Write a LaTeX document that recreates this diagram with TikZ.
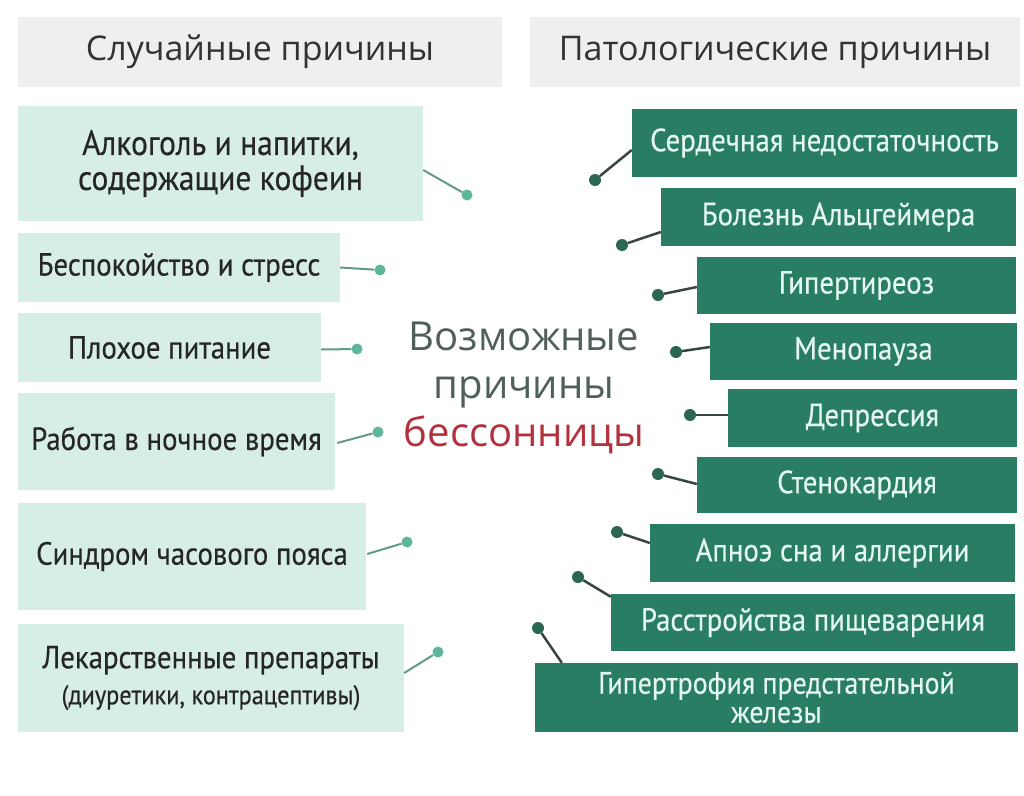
\documentclass[tikz,border=0pt]{standalone}
\usepackage{fontspec}
\setmainfont{PT Sans}
\newfontfamily\condfont[FakeStretch=0.9,FakeBold=0.4]{PT Sans}
\newfontfamily\headfont{Open Sans}
\usetikzlibrary{calc}

\definecolor{headgray}{HTML}{EFEFEF}
\definecolor{mint}{HTML}{D6EEE5}
\definecolor{pine}{HTML}{2A7D65}
\definecolor{pinetext}{HTML}{E3F6EF}
\definecolor{mintdot}{HTML}{5DB59C}
\definecolor{mintline}{HTML}{5F9A8A}
\definecolor{pinedot}{HTML}{2B6653}
\definecolor{pineline}{HTML}{37463F}
\definecolor{titlegray}{HTML}{4F5F5B}
\definecolor{titlered}{HTML}{B3303C}

\tikzset{
  header/.style={fill=headgray,minimum height=70pt,font=\headfont\fontsize{34}{38}\selectfont,text=black!80},
  casual/.style={fill=mint,align=center,font=\condfont\fontsize{32}{36}\selectfont,text=black!85},
  disease/.style={fill=pine,align=center,font=\condfont\fontsize{32}{32}\selectfont,text=pinetext},
  casualdot/.style={circle,fill=mintdot,inner sep=0pt,minimum size=11pt},
  diseasedot/.style={circle,fill=pinedot,inner sep=0pt,minimum size=12pt},
  casualline/.style={draw=mintline,line width=2pt},
  diseaseline/.style={draw=pineline,line width=2.5pt}
}

\begin{document}
\begin{tikzpicture}[x=1pt,y=-1pt]
      \useasboundingbox (0,0) rectangle (1024,795);
      % \draw[help lines](0,0) grid (1024,795);

      % headers
      \draw (260,52) node[header,minimum width=484pt] (hcasual) {Случайные причины};
      \draw (775,52) node[header,minimum width=490pt] (hpath) {Патологические причины};

      % centre title
      \draw (524,388) node[align=center,font=\headfont\fontsize{40}{48}\selectfont,text=titlegray] (title)
        {Возможные\\причины\\\textcolor{titlered}{бессонницы}};

      % left column
      \draw (220.5,163.5) node[casual,minimum width=405pt,minimum height=115pt,font=\condfont\fontsize{35}{35}\selectfont] (alcohol) {Алкоголь и напитки,\\содержащие кофеин};
      \draw (179,267.5) node[casual,minimum width=322pt,minimum height=69pt] (stress) {Беспокойство и стресс};
      \draw (169.5,347.5) node[casual,minimum width=303pt,minimum height=69pt] (food) {Плохое питание};
      \draw (176.5,441.5) node[casual,minimum width=317pt,minimum height=97pt] (night) {Работа в ночное время};
      \draw (192,556.5) node[casual,minimum width=348pt,minimum height=107pt] (jetlag) {Синдром часового пояса};
      \draw (211,678) node[casual,minimum width=386pt,minimum height=108pt] (drugs) {Лекарственные препараты\\{\fontsize{27}{30}\selectfont(диуретики, контрацептивы)}};

      \draw (467,195) node[casualdot] (dalcohol) {};
      \draw (380,270) node[casualdot] (dstress) {};
      \draw (357,349) node[casualdot] (dfood) {};
      \draw (378,432) node[casualdot] (dnight) {};
      \draw (407,542) node[casualdot] (djetlag) {};
      \draw (438,652) node[casualdot] (ddrugs) {};

      \draw[casualline] ($(alcohol.east)+(0,6.5)$) -- (dalcohol);
      \draw[casualline] (stress.east) -- (dstress);
      \draw[casualline] ($(food.east)+(0,2)$) -- (dfood);
      \draw[casualline] ($(night.east)+(2,1.5)$) -- (dnight);
      \draw[casualline] ($(jetlag.east)+(1,-2.5)$) -- (djetlag);
      \draw[casualline] ($(drugs.east)+(0,-5)$) -- (ddrugs);

      % right column
      \draw (824.5,143) node[disease,minimum width=385pt,minimum height=68pt] (heart) {Сердечная недостаточность};
      \draw (838.5,217) node[disease,minimum width=355pt,minimum height=58pt] (alzheimer) {Болезнь Альцгеймера};
      \draw (856.5,285.5) node[disease,minimum width=319pt,minimum height=57pt] (thyroid) {Гипертиреоз};
      \draw (863.5,351.5) node[disease,minimum width=307pt,minimum height=57pt] (menopause) {Менопауза};
      \draw (872.5,418) node[disease,minimum width=289pt,minimum height=58pt] (depression) {Депрессия};
      \draw (857,485) node[disease,minimum width=320pt,minimum height=56pt] (angina) {Стенокардия};
      \draw (832.5,553) node[disease,minimum width=365pt,minimum height=58pt] (apnea) {Апноэ сна и аллергии};
      \draw (813,622.5) node[disease,minimum width=404pt,minimum height=57pt] (digest) {Расстройства пищеварения};
      \draw (776.5,697.5) node[disease,minimum width=483pt,minimum height=69pt,inner ysep=1pt,font=\condfont\fontsize{31}{29}\selectfont] (prostate) {Гипертрофия предстательной\\железы};

      \draw (595,180) node[diseasedot] (dheart) {};
      \draw (622,245) node[diseasedot] (dalzheimer) {};
      \draw (658,295) node[diseasedot] (dthyroid) {};
      \draw (676,352) node[diseasedot] (dmenopause) {};
      \draw (690,415) node[diseasedot] (ddepression) {};
      \draw (658,474) node[diseasedot] (dangina) {};
      \draw (617,532) node[diseasedot] (dapnea) {};
      \draw (578,577) node[diseasedot] (ddigest) {};
      \draw (538,628) node[diseasedot] (dprostate) {};

      \draw[diseaseline] ($(heart.west)+(0,7)$) -- (dheart);
      \draw[diseaseline] ($(alzheimer.west)+(0,15)$) -- (dalzheimer);
      \draw[diseaseline] ($(thyroid.west)+(0,1.5)$) -- (dthyroid);
      \draw[diseaseline] ($(menopause.west)+(0,-4.5)$) -- (dmenopause);
      \draw[diseaseline] ($(depression.west)+(0,-3)$) -- (ddepression);
      \draw[diseaseline] ($(angina.west)+(0,-1)$) -- (dangina);
      \draw[diseaseline] ($(apnea.west)+(0,-10)$) -- (dapnea);
      \draw[diseaseline] ($(digest.north west)+(0,3)$) -- (ddigest);
      \draw[diseaseline] ($(prostate.north west)+(27,0)$) -- (dprostate);
    \end{tikzpicture}
\end{document}
